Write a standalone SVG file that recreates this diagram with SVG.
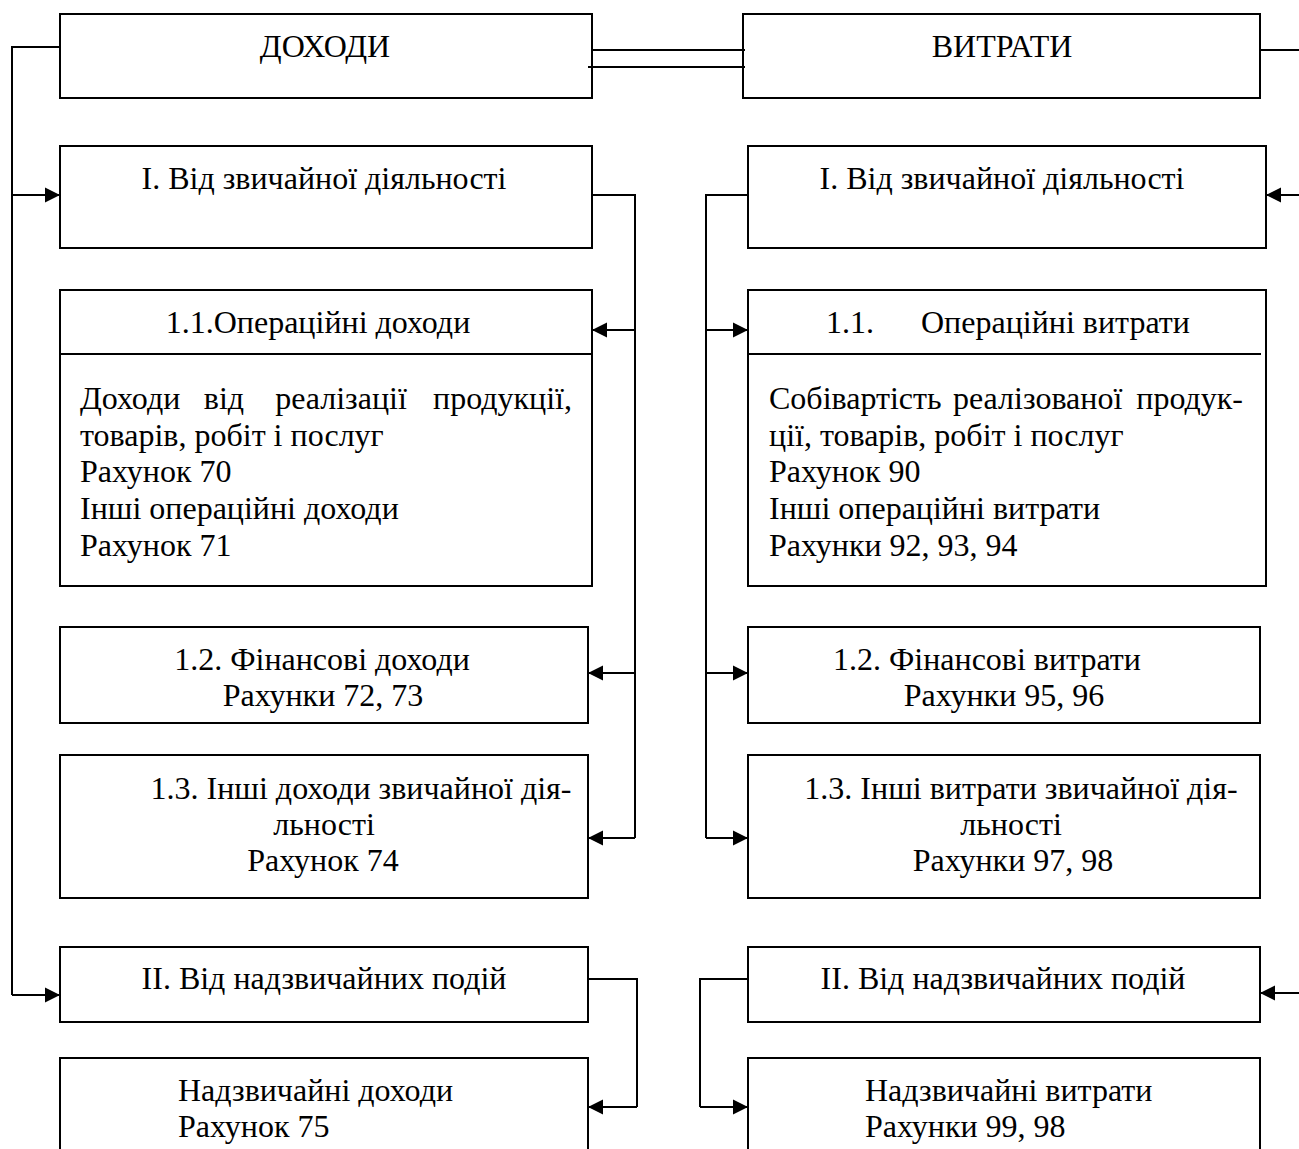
<svg xmlns="http://www.w3.org/2000/svg" width="1299" height="1149" viewBox="0 0 1299 1149">
<style>
.box{fill:none;stroke:#000;stroke-width:2}
.ln{fill:none;stroke:#000;stroke-width:2}
text{font-family:"Liberation Serif","Times New Roman",serif;font-size:32px;fill:#000}
.c{text-anchor:middle}
.e{text-anchor:end}
</style>
<defs>
<marker id="ah" markerUnits="userSpaceOnUse" markerWidth="16" markerHeight="16" viewBox="0 0 16 16" refX="15" refY="8" orient="auto">
<path d="M0,0.5 L15,8 L0,15.5 z" fill="#000"/>
</marker>
</defs>
<rect width="1299" height="1149" fill="#fff"/>

<g id="connectors">
<polyline class="ln" points="60,47 12,47 12,995"/>
<line class="ln" x1="12" y1="195" x2="60" y2="195" marker-end="url(#ah)"/>
<line class="ln" x1="12" y1="995" x2="60" y2="995" marker-end="url(#ah)"/>
<line class="ln" x1="592" y1="50" x2="745" y2="50"/>
<line class="ln" x1="588" y1="67" x2="745" y2="67"/>
<polyline class="ln" points="592,195 635,195 635,838"/>
<line class="ln" x1="635" y1="330" x2="592" y2="330" marker-end="url(#ah)"/>
<line class="ln" x1="635" y1="673" x2="588" y2="673" marker-end="url(#ah)"/>
<line class="ln" x1="635" y1="838" x2="588" y2="838" marker-end="url(#ah)"/>
<polyline class="ln" points="588,979 637,979 637,1107"/>
<line class="ln" x1="637" y1="1107" x2="588" y2="1107" marker-end="url(#ah)"/>
<line class="ln" x1="1260" y1="50" x2="1299" y2="50"/>
<line class="ln" x1="1299" y1="195" x2="1266" y2="195" marker-end="url(#ah)"/>
<line class="ln" x1="1299" y1="993" x2="1260" y2="993" marker-end="url(#ah)"/>
<polyline class="ln" points="748,195 706,195 706,838"/>
<line class="ln" x1="706" y1="330" x2="748" y2="330" marker-end="url(#ah)"/>
<line class="ln" x1="706" y1="673" x2="748" y2="673" marker-end="url(#ah)"/>
<line class="ln" x1="706" y1="838" x2="748" y2="838" marker-end="url(#ah)"/>
<polyline class="ln" points="748,979 700,979 700,1107"/>
<line class="ln" x1="700" y1="1107" x2="748" y2="1107" marker-end="url(#ah)"/>
</g>

<g id="dohody">
<rect class="box" x="60" y="14" width="532" height="84"/>
<text class="c" x="325" y="57">ДОХОДИ</text>
</g>
<g id="vytraty">
<rect class="box" x="743" y="14" width="517" height="84"/>
<text class="c" x="1002" y="57">ВИТРАТИ</text>
</g>

<g id="d-zvych">
<rect class="box" x="60" y="146" width="532" height="102"/>
<text class="c" x="324" y="189">I. Від звичайної діяльності</text>
</g>
<g id="v-zvych">
<rect class="box" x="748" y="146" width="518" height="102"/>
<text class="c" x="1002" y="189">I. Від звичайної діяльності</text>
</g>

<g id="d-oper">
<rect class="box" x="60" y="290" width="532" height="296"/>
<line class="ln" x1="60" y1="354" x2="592" y2="354"/>
<text class="c" x="318" y="333">1.1.Операційні доходи</text>
<text x="80" y="409">Доходи</text>
<text class="c" x="224" y="409">від</text>
<text class="c" x="341" y="409">реалізації</text>
<text class="e" x="572" y="409">продукції,</text>
<text x="80" y="446">товарів, робіт і послуг</text>
<text x="80" y="482">Рахунок 70</text>
<text x="80" y="519">Інші операційні доходи</text>
<text x="80" y="556">Рахунок 71</text>
</g>
<g id="v-oper">
<rect class="box" x="748" y="290" width="518" height="296"/>
<line class="ln" x1="748" y1="354" x2="1261" y2="354"/>
<text x="826" y="333">1.1.</text>
<text x="921" y="333">Операційні витрати</text>
<text x="769" y="409">Собівартість</text>
<text x="953" y="409">реалізованої</text>
<text class="e" x="1243" y="409">продук-</text>
<text x="769" y="446">ції, товарів, робіт і послуг</text>
<text x="769" y="482">Рахунок 90</text>
<text x="769" y="519">Інші операційні витрати</text>
<text x="769" y="556">Рахунки 92, 93, 94</text>
</g>

<g id="d-fin">
<rect class="box" x="60" y="627" width="528" height="96"/>
<text class="c" x="322" y="670">1.2. Фінансові доходи</text>
<text class="c" x="323" y="706">Рахунки 72, 73</text>
</g>
<g id="v-fin">
<rect class="box" x="748" y="627" width="512" height="96"/>
<text class="c" x="987" y="670">1.2. Фінансові витрати</text>
<text class="c" x="1004" y="706">Рахунки 95, 96</text>
</g>

<g id="d-inshi">
<rect class="box" x="60" y="755" width="528" height="143"/>
<text class="c" x="361" y="799">1.3. Інші доходи звичайної дія-</text>
<text class="c" x="324" y="835">льності</text>
<text class="c" x="323" y="871">Рахунок 74</text>
</g>
<g id="v-inshi">
<rect class="box" x="748" y="755" width="512" height="143"/>
<text class="c" x="1021" y="799">1.3. Інші витрати звичайної дія-</text>
<text class="c" x="1011" y="835">льності</text>
<text class="c" x="1013" y="871">Рахунки 97, 98</text>
</g>

<g id="d-nadz">
<rect class="box" x="60" y="947" width="528" height="75"/>
<text class="c" x="324" y="989">II. Від надзвичайних подій</text>
</g>
<g id="v-nadz">
<rect class="box" x="748" y="947" width="512" height="75"/>
<text class="c" x="1003" y="989">II. Від надзвичайних подій</text>
</g>

<g id="d-nadz-dohody">
<rect class="box" x="60" y="1058" width="528" height="110"/>
<text x="178" y="1101">Надзвичайні доходи</text>
<text x="178" y="1137">Рахунок 75</text>
</g>
<g id="v-nadz-vytraty">
<rect class="box" x="748" y="1058" width="512" height="110"/>
<text x="865" y="1101">Надзвичайні витрати</text>
<text x="865" y="1137">Рахунки  99, 98</text>
</g>
</svg>
